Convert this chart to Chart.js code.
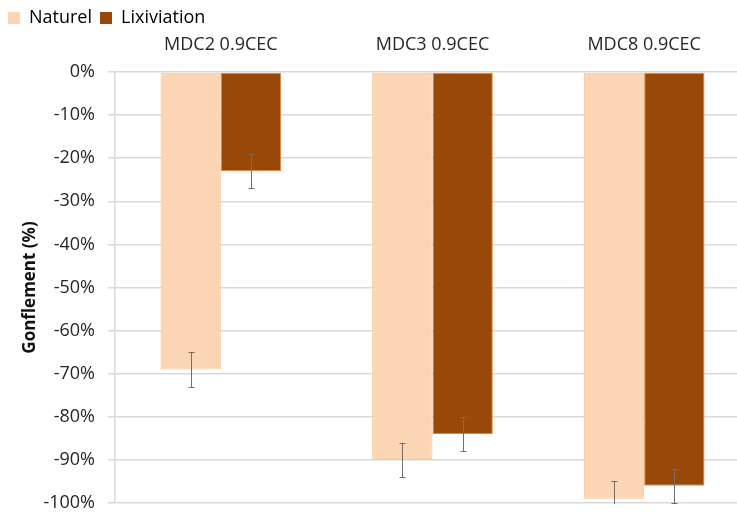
<!DOCTYPE html>
<html>
<head>
<meta charset="utf-8">
<script src="https://cdn.jsdelivr.net/npm/chart.js@4"></script>
<style>
    html, body { margin: 0; padding: 0; background: #fff; overflow: hidden; }
    #wrap { position: relative; width: 750px; height: 513px; }
</style>
</head>
<body>
<div id="wrap"><canvas id="gonflement"></canvas></div>
<script>
const CATEGORIES = ["MDC2 0.9CEC", "MDC3 0.9CEC", "MDC8 0.9CEC"];
const NATUREL = [-69, -90, -99];
const NATUREL_ERR = [4, 4, 4];
const LIXIVIATION = [-23, -84, -96];
const LIXIVIATION_ERR = [4, 4, 4];
const Y_TICKS = [0, -10, -20, -30, -40, -50, -60, -70, -80, -90, -100];

const FONT = "'Open Sans', 'DejaVu Sans', sans-serif";

// draws the +/- error bars, clipped to the plot area like the original
const errorBars = {
    id: "errorBars",
    afterDatasetsDraw: function (chart) {
        const ctx = chart.ctx;
        const y = chart.scales.y;
        const area = chart.chartArea;
        ctx.save();
        ctx.beginPath();
        ctx.rect(area.left, area.top, area.right - area.left, area.bottom - area.top + 1);
        ctx.clip();
        ctx.strokeStyle = "#6f6f6f";
        ctx.lineWidth = 1;
        chart.data.datasets.forEach(function (ds, i) {
            const meta = chart.getDatasetMeta(i);
            meta.data.forEach(function (bar, j) {
                const v = ds.data[j];
                const e = ds.errors[j];
                const x = Math.round(bar.x) + 0.5;
                const yTop = Math.round(y.getPixelForValue(v + e)) + 0.5;
                const yBot = Math.round(y.getPixelForValue(v - e)) + 0.5;
                ctx.beginPath();
                ctx.moveTo(x, yTop);
                ctx.lineTo(x, yBot);
                ctx.moveTo(x - 3, yTop);
                ctx.lineTo(x + 3, yTop);
                ctx.moveTo(x - 3, yBot);
                ctx.lineTo(x + 3, yBot);
                ctx.stroke();
            });
        });
        ctx.restore();
    }
};

// legend adds 10px under itself, the original has it tight above the labels
const tightLegend = {
    id: "tightLegend",
    beforeLayout: function (chart) {
        const lg = chart.legend;
        if (lg && !lg._tight) {
            const fit = lg.fit;
            lg.fit = function () {
                fit.call(this);
                this.height = Math.max(this.height - 10, 0);
            };
            lg._tight = true;
        }
    }
};

function drawChart() {
    const ctx = document.getElementById("gonflement").getContext("2d");
    new Chart(ctx, {
        type: "bar",
        data: {
            labels: CATEGORIES,
            datasets: [{
                label: "Naturel",
                data: NATUREL,
                errors: NATUREL_ERR,
                backgroundColor: "#FCD5B5",
                borderColor: "#F8C49A",
                borderWidth: 1,
                borderSkipped: false,
            },
            {
                label: "Lixiviation",
                data: LIXIVIATION,
                errors: LIXIVIATION_ERR,
                backgroundColor: "#984807",
                borderColor: "#E8843A",
                borderWidth: 1,
                borderSkipped: false,
            },
            ],
        },
        options: {
            responsive: true,
            maintainAspectRatio: false,
            animation: false,
            categoryPercentage: 0.57,
            barPercentage: 1,
            layout: {
                padding: { left: 0, right: 0, top: 1, bottom: 0 }
            },
            scales: {
                x: {
                    position: "top",
                    afterFit: function (axis) {
                        axis.height = 45;
                        axis.paddingLeft = 0;
                        axis.paddingRight = 0;
                    },
                    grid: { display: false, drawTicks: false },
                    border: { display: false },
                    ticks: {
                        color: "#262626",
                        padding: 16,
                        font: { family: FONT, size: 18 }
                    }
                },
                y: {
                    min: -100,
                    max: 0,
                    afterBuildTicks: function (axis) {
                        axis.ticks = Y_TICKS.map(function (v) { return { value: v }; });
                    },
                    afterFit: function (axis) {
                        axis.width = 115;
                        axis.paddingTop = 11;
                        axis.paddingBottom = 10;
                    },
                    grid: {
                        color: "#D9D9D9",
                        tickLength: 7,
                        lineWidth: 1.5
                    },
                    border: { display: true, color: "#D9D9D9", width: 1.5 },
                    ticks: {
                        color: "#262626",
                        padding: 13,
                        font: { family: FONT, size: 18 },
                        callback: function (v) { return v + "%"; }
                    },
                    title: {
                        display: true,
                        text: "Gonflement (%)",
                        color: "#111",
                        padding: { top: 20, bottom: 0 },
                        font: { family: FONT, size: 17, weight: "bold" }
                    }
                }
            },
            plugins: {
                legend: {
                    position: "top",
                    align: "start",
                    labels: {
                        boxWidth: 12,
                        boxHeight: 12,
                        padding: 8,
                        color: "#111",
                        font: { family: FONT, size: 18 },
                        generateLabels: function (chart) {
                            return chart.data.datasets.map(function (ds, i) {
                                return {
                                    text: ds.label,
                                    fillStyle: ds.backgroundColor,
                                    strokeStyle: ds.backgroundColor,
                                    lineWidth: 0,
                                    datasetIndex: i
                                };
                            });
                        }
                    }
                },
                tooltip: { enabled: false }
            }
        },
        plugins: [errorBars, tightLegend]
    });
}

// measure text only once Open Sans is ready
window.onload = function () {
    Promise.all([
        document.fonts.load("18px 'Open Sans'"),
        document.fonts.load("bold 17px 'Open Sans'")
    ]).then(drawChart, drawChart);
};
</script>
</body>
</html>
